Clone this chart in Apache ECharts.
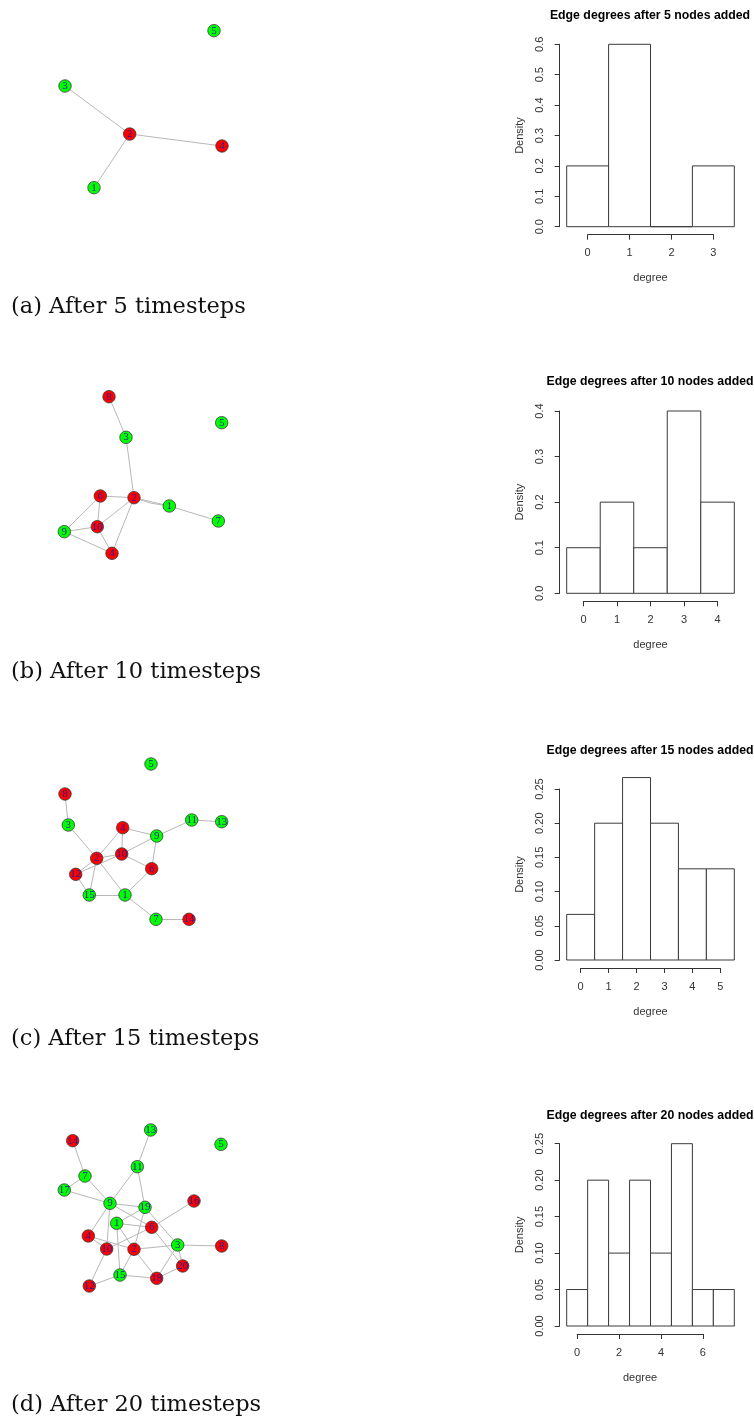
<!DOCTYPE html>
<html><head><meta charset="utf-8">
<script src="https://cdn.jsdelivr.net/npm/echarts@6/dist/echarts.min.js"></script>
<style>html,body{margin:0;padding:0;background:#fff}#c{width:754px;height:1418px}</style>
</head><body><div id="c"></div>
<script>
// ---------- DATA ----------
const captions = ['(a) After 5 timesteps', '(b) After 10 timesteps', '(c) After 15 timesteps', '(d) After 20 timesteps'];
const histTitles = ['Edge degrees after 5 nodes added', 'Edge degrees after 10 nodes added', 'Edge degrees after 15 nodes added', 'Edge degrees after 20 nodes added'];

const hist1Degree = [0, 1, 2, 3];
const hist1Density = [0.2, 0.6, 0.0, 0.2];
const hist2Degree = [0, 1, 2, 3, 4];
const hist2Density = [0.1, 0.2, 0.1, 0.4, 0.2];
const hist3Degree = [0, 1, 2, 3, 4, 5];
const hist3Density = [0.0667, 0.2, 0.2667, 0.2, 0.1333, 0.1333];
const hist4Degree = [0, 1, 2, 3, 4, 5, 6, 7];
const hist4Density = [0.05, 0.2, 0.1, 0.2, 0.1, 0.25, 0.05, 0.05];

// y tick ranges [max, interval, decimals]; x tick ranges [max, interval]
const hist1YTicks = [0.6, 0.1, 1];  const hist1XTicks = [3, 1];
const hist2YTicks = [0.4, 0.1, 1];  const hist2XTicks = [4, 1];
const hist3YTicks = [0.25, 0.05, 2]; const hist3XTicks = [5, 1];
const hist4YTicks = [0.25, 0.05, 2]; const hist4XTicks = [6, 2];

// graph layouts (layout units), node colours: r = red, g = green
const g1Names = ['5', '3', '2', '4', '1'];
const g1X = [174, 25, 89.7, 182, 54];
const g1Y = [20.7, 76, 124, 136, 177.7];
const g1Col = ['g', 'g', 'r', 'r', 'g'];
const g1Links = [['3', '2'], ['2', '4'], ['2', '1']];

const g2Names = ['8', '3', '5', '6', '2', '1', '7', '10', '9', '4'];
const g2X = [69, 86, 181.7, 60.3, 94, 129.3, 178.3, 57.3, 24.3, 72];
const g2Y = [16.7, 57.3, 42.7, 116, 117.7, 126, 141, 146.7, 151.7, 173.3];
const g2Col = ['r', 'g', 'g', 'r', 'r', 'g', 'g', 'r', 'g', 'r'];
const g2Links = [['8', '3'], ['3', '2'], ['6', '2'], ['2', '1'], ['1', '2'], ['1', '7'], ['6', '10'], ['6', '9'], ['2', '10'], ['2', '4'], ['9', '10'], ['9', '4'], ['10', '4']];

const g3Names = ['5', '8', '3', '11', '13', '4', '9', '10', '2', '6', '12', '15', '1', '7', '14'];
const g3X = [111, 25, 28.3, 151.7, 181.7, 82.7, 116.7, 81.7, 56.7, 111.7, 35.7, 49.3, 85, 116, 149];
const g3Y = [14, 44, 75, 70, 71.7, 77.7, 86, 104, 108.3, 118.7, 124.3, 145, 145, 169.3, 169.3];
const g3Col = ['g', 'r', 'g', 'g', 'g', 'r', 'g', 'r', 'r', 'r', 'r', 'g', 'g', 'g', 'r'];
const g3Links = [['8', '3'], ['3', '2'], ['11', '13'], ['9', '11'], ['4', '9'], ['4', '10'], ['4', '2'], ['10', '9'], ['2', '10'], ['12', '10'], ['10', '6'], ['9', '6'], ['2', '12'], ['2', '15'], ['12', '15'], ['2', '1'], ['15', '1'], ['1', '6'], ['1', '7'], ['7', '14']];

const g4Names = ['13', '14', '5', '11', '7', '17', '9', '19', '16', '1', '6', '4', '10', '2', '3', '8', '20', '15', '18', '12'];
const g4X = [110.7, 32.7, 181, 97.3, 45, 24.3, 70, 105, 154, 76.7, 111.7, 48.3, 66.7, 94, 137.7, 181.7, 142.7, 80, 116.7, 49.3];
const g4Y = [15, 25.7, 29.3, 51.7, 61, 75, 88.3, 92.3, 86, 108.3, 112.3, 121, 134, 134.3, 130, 131, 151, 160, 163.3, 171];
const g4Col = ['g', 'r', 'g', 'g', 'g', 'g', 'g', 'g', 'r', 'g', 'r', 'r', 'r', 'r', 'g', 'r', 'r', 'g', 'r', 'r'];
const g4Links = [['13', '11'], ['14', '7'], ['7', '17'], ['7', '9'], ['17', '9'], ['11', '9'], ['11', '19'], ['9', '19'], ['9', '6'], ['9', '4'], ['9', '10'], ['19', '1'], ['19', '3'], ['19', '2'], ['1', '6'], ['1', '2'], ['1', '15'], ['4', '10'], ['4', '2'], ['10', '6'], ['2', '3'], ['2', '15'], ['2', '18'], ['16', '6'], ['6', '20'], ['3', '8'], ['3', '20'], ['3', '18'], ['20', '18'], ['15', '18'], ['15', '12'], ['12', '10']];

// ---------- LAYOUT ----------
const hists = [
  {deg: hist1Degree, den: hist1Density, yt: hist1YTicks, xt: hist1XTicks, titleY: 5, maxY: 44.3, zeroY: 226.7},
  {deg: hist2Degree, den: hist2Density, yt: hist2YTicks, xt: hist2XTicks, titleY: 371, maxY: 411, zeroY: 593.3},
  {deg: hist3Degree, den: hist3Density, yt: hist3YTicks, xt: hist3XTicks, titleY: 740, maxY: 789, zeroY: 960},
  {deg: hist4Degree, den: hist4Density, yt: hist4YTicks, xt: hist4XTicks, titleY: 1105, maxY: 1143.7, zeroY: 1326}
];
const graphs = [
  {n: g1Names, x: g1X, y: g1Y, c: g1Col, l: g1Links, top: 10},
  {n: g2Names, x: g2X, y: g2Y, c: g2Col, l: g2Links, top: 380},
  {n: g3Names, x: g3X, y: g3Y, c: g3Col, l: g3Links, top: 750},
  {n: g4Names, x: g4X, y: g4Y, c: g4Col, l: g4Links, top: 1115}
];
const captionTops = [291, 656, 1023, 1389];

const BAR_L = 566.7, BAR_R = 734.3, AXIS_GAP = 8;
const grid = [], xAxis = [], yAxis = [], series = [], title = [];
const axisColor = '#333';
const sans = 'Liberation Sans, Arial, sans-serif';

hists.forEach((h, i) => {
  const n = h.deg.length;
  const unit = (BAR_R - BAR_L) / n;
  const x0 = BAR_L + unit * 0.5;
  // bar grid
  const gi = grid.length;
  grid.push({left: BAR_L, width: BAR_R - BAR_L, top: h.maxY, height: h.zeroY - h.maxY});
  xAxis.push({gridIndex: gi, type: 'value', min: h.deg[0] - 0.5, max: h.deg[n - 1] + 0.5, show: false});
  yAxis.push({gridIndex: gi, type: 'value', min: 0, max: h.yt[0], interval: h.yt[1], offset: 7,
    axisLine: {show: true, onZero: false, lineStyle: {color: axisColor}},
    axisTick: {show: true, length: 5, lineStyle: {color: axisColor}},
    splitLine: {show: false},
    axisLabel: {rotate: 90, margin: 14, color: axisColor, fontFamily: sans, fontSize: 11,
      formatter: v => v.toFixed(h.yt[2])},
    name: 'Density', nameLocation: 'middle', nameGap: 34,
    nameTextStyle: {color: axisColor, fontFamily: sans, fontSize: 11}
  });
  series.push({type: 'custom', xAxisIndex: xAxis.length - 1, yAxisIndex: yAxis.length - 1, clip: false,
    data: h.deg.map((d, k) => [d, h.den[k]]),
    renderItem: (params, api) => {
      const x = api.value(0), y = api.value(1);
      const p0 = api.coord([x - 0.5, y]);
      const p1 = api.coord([x + 0.5, 0]);
      return {type: 'rect', shape: {x: p0[0], y: p0[1], width: p1[0] - p0[0], height: p1[1] - p0[1]},
        style: {fill: '#fff', stroke: '#3a3a3a', lineWidth: 1}};
    }
  });
  // x axis grid (detached, spanning first to last tick)
  const gj = grid.length;
  grid.push({left: x0, width: unit * h.xt[0], top: h.zeroY, height: AXIS_GAP});
  xAxis.push({gridIndex: gj, type: 'value', min: 0, max: h.xt[0], interval: h.xt[1],
    axisLine: {show: true, onZero: false, lineStyle: {color: axisColor}},
    axisTick: {show: true, length: 5, lineStyle: {color: axisColor}},
    splitLine: {show: false},
    axisLabel: {margin: 13, color: axisColor, fontFamily: sans, fontSize: 11},
    name: 'degree', nameLocation: 'middle', nameGap: 38,
    nameTextStyle: {color: axisColor, fontFamily: sans, fontSize: 11}
  });
  yAxis.push({gridIndex: gj, type: 'value', show: false, min: 0, max: 1});
  title.push({text: histTitles[i], left: 645, top: h.titleY, textAlign: 'center',
    textStyle: {fontFamily: sans, fontWeight: 'bold', fontSize: 12.3, color: '#000'}});
});

graphs.forEach((g, i) => {
  const gi = grid.length;
  grid.push({left: 40, top: g.top, width: 200, height: 200});
  xAxis.push({gridIndex: gi, type: 'value', min: 0, max: 200, show: false});
  yAxis.push({gridIndex: gi, type: 'value', min: 0, max: 200, inverse: true, show: false});
  const seen = {};
  series.push({type: 'graph', coordinateSystem: 'cartesian2d', xAxisIndex: xAxis.length - 1, yAxisIndex: yAxis.length - 1,
    symbol: 'circle', symbolSize: 12.5,
    data: g.n.map((nm, k) => ({name: nm, value: [g.x[k], g.y[k]],
      itemStyle: {color: g.c[k] === 'r' ? '#ff0000' : '#00ff00', borderColor: '#3a3a3a', borderWidth: 0.8}})),
    links: g.l.map(([s, t]) => {
      const key = [s, t].sort().join('-');
      const dup = seen[key]; seen[key] = true;
      return {source: s, target: t, lineStyle: {curveness: dup ? 0.08 : 0}};
    }),
    label: {show: true, position: 'inside', color: '#1c1c9c', fontFamily: 'Liberation Serif, serif', fontSize: 11},
    lineStyle: {color: '#b8b8b8', width: 1, opacity: 1},
    emphasis: {disabled: true}
  });
  title.push({text: captions[i], left: 6, top: captionTops[i],
    textStyle: {fontFamily: 'DejaVu Serif, Liberation Serif, serif', fontWeight: 'normal', fontSize: 22.5, color: '#111'}});
});

const chart = echarts.init(document.getElementById('c'), null, {renderer: 'canvas'});
chart.setOption({animation: false, backgroundColor: '#fff', title, grid, xAxis, yAxis, series});
</script></body></html>
